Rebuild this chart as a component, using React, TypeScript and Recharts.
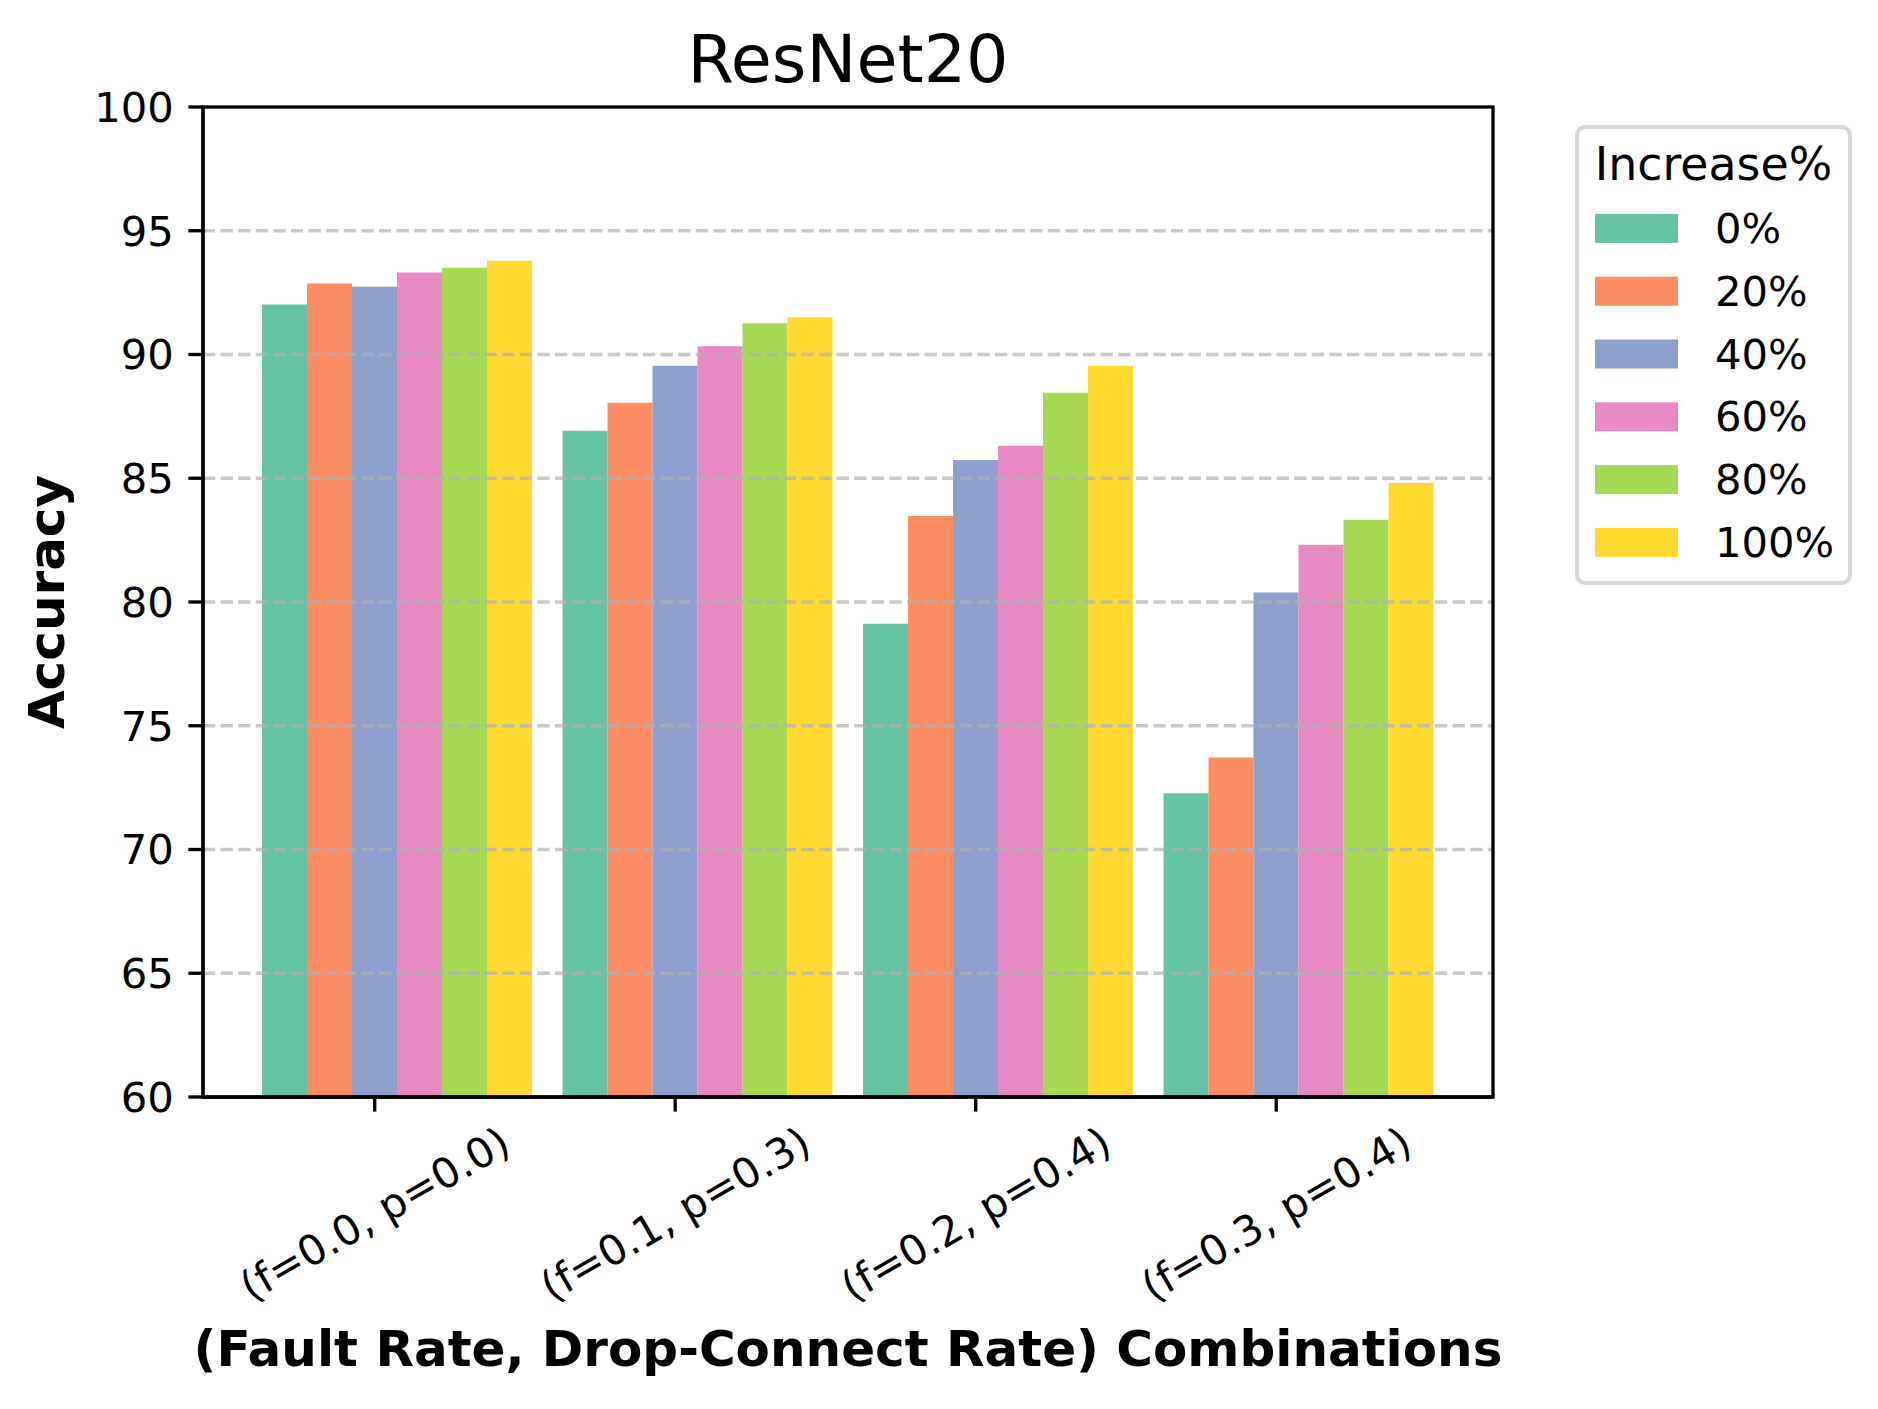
import React from 'react';
import { BarChart, Bar, XAxis, YAxis, ReferenceLine } from 'recharts';

// ---- data ----
const categories = ['(f=0.0, p=0.0)', '(f=0.1, p=0.3)', '(f=0.2, p=0.4)', '(f=0.3, p=0.4)'];
const seriesNames = ['0%', '20%', '40%', '60%', '80%', '100%'];
const inc0 = [92.02, 86.92, 79.12, 72.27];
const inc20 = [92.87, 88.05, 83.47, 73.72];
const inc40 = [92.74, 89.55, 85.74, 80.38];
const inc60 = [93.31, 90.33, 86.31, 82.31];
const inc80 = [93.51, 91.26, 88.45, 83.32];
const inc100 = [93.79, 91.51, 89.55, 84.81];
const yTicks = [60, 65, 70, 75, 80, 85, 90, 95, 100];
const gridTicks = [65, 70, 75, 80, 85, 90, 95];
const title = 'ResNet20';
const xLabel = '(Fault Rate, Drop-Connect Rate) Combinations';
const yLabel = 'Accuracy';
const legendTitle = 'Increase%';

// ---- style ----
const colors = ['#66c2a5', '#fc8d62', '#8da0cb', '#e78ac3', '#a6d854', '#ffd92f'];
const seriesValues = [inc0, inc20, inc40, inc60, inc80, inc100];
const keys = ['s0', 's20', 's40', 's60', 's80', 's100'];
const data = categories.map((c, i) => {
  const row: any = { name: c };
  keys.forEach((k, j) => { row[k] = seriesValues[j][i]; });
  return row;
});

const W = 1878;
const H = 1409;
const PLOT = { left: 203, right: 1493, top: 107, bottom: 1097 };
const Y_AXIS_W = 120;
const X_AXIS_H = 250;
const PAD = 44;
const BAND = (PLOT.right - PLOT.left - 2 * PAD) / categories.length;
const BAR_W = (BAND * 0.9) / keys.length;
const FONT = 'DejaVu Sans, Verdana, sans-serif';
const TICK_FS = 41.7;
const LABEL_FS = 50;
const TICK_LEN = 14.6;
const LW = 3.33;

const XTick = (props: any) => {
  const { x, payload } = props;
  const tx = x - BAR_W / 2;
  const cy = 1214;
  return (
    <g>
      <line x1={tx} x2={tx} y1={PLOT.bottom} y2={PLOT.bottom + TICK_LEN} stroke="#000" strokeWidth={LW} />
      <text
        x={tx}
        y={cy}
        transform={`rotate(-30 ${tx} ${cy})`}
        textAnchor="middle"
        dominantBaseline="central"
        fontSize={TICK_FS}
        fontFamily={FONT}
        fill="#000"
      >
        {payload.value}
      </text>
    </g>
  );
};

export default function App() {
  const legendLeft = 1577;
  const legendTop = 127;
  const legendW = 273;
  const legendH = 456;
  const rowC0 = 228.4;
  const rowStep = 62.8;
  const midY = (PLOT.top + PLOT.bottom) / 2;
  const midX = (PLOT.left + PLOT.right) / 2;
  return (
    <div style={{ position: 'absolute', left: 0, top: 0, width: W, height: H, background: '#fff', fontFamily: FONT }}>
      <BarChart
        width={W}
        height={H}
        data={data}
        margin={{ top: PLOT.top, left: PLOT.left - Y_AXIS_W, right: W - PLOT.right, bottom: H - PLOT.bottom - X_AXIS_H }}
        barCategoryGap="5%"
        barGap={0}
      >
        <XAxis
          dataKey="name"
          height={X_AXIS_H}
          padding={{ left: PAD, right: PAD }}
          axisLine={{ stroke: '#000', strokeWidth: LW }}
          tickLine={false}
          tick={<XTick />}
          interval={0}
        />
        <YAxis
          type="number"
          domain={[60, 100]}
          ticks={yTicks}
          allowDataOverflow
          width={Y_AXIS_W}
          axisLine={{ stroke: '#000', strokeWidth: LW }}
          tickLine={{ stroke: '#000', strokeWidth: LW }}
          tickSize={TICK_LEN}
          tickMargin={TICK_LEN}
          tick={{ fontSize: TICK_FS, fill: '#000', fontFamily: FONT }}
          interval={0}
        />
        {keys.map((k, j) => (
          <Bar key={k} dataKey={k} name={seriesNames[j]} fill={colors[j]} isAnimationActive={false} />
        ))}
        {gridTicks.map((v) => (
          <ReferenceLine
            key={v}
            y={v}
            stroke="#b0b0b0"
            strokeOpacity={0.7}
            strokeWidth={LW}
            strokeDasharray="12.3 5.3"
          />
        ))}
      </BarChart>
      <svg
        width={W}
        height={H}
        style={{ position: 'absolute', left: 0, top: 0, pointerEvents: 'none' }}
      >
        <rect
          x={PLOT.left}
          y={PLOT.top}
          width={PLOT.right - PLOT.left}
          height={PLOT.bottom - PLOT.top}
          fill="none"
          stroke="#000"
          strokeWidth={LW}
        />
        <text x={midX} y={82} textAnchor="middle" fontSize={66.7} fontFamily={FONT} fill="#000">
          {title}
        </text>
        <text x={midX} y={1366} textAnchor="middle" fontSize={LABEL_FS} fontWeight="bold" fontFamily={FONT} fill="#000">
          {xLabel}
        </text>
        <text
          x={64}
          y={midY}
          transform={`rotate(-90 64 ${midY})`}
          textAnchor="middle"
          fontSize={LABEL_FS}
          fontWeight="bold"
          fontFamily={FONT}
          fill="#000"
        >
          {yLabel}
        </text>
        <rect
          x={legendLeft}
          y={legendTop}
          width={legendW}
          height={legendH}
          rx={8}
          ry={8}
          fill="#fff"
          fillOpacity={0.8}
          stroke="#d6d6d6"
          strokeWidth={4}
        />
        <text x={legendLeft + legendW / 2} y={180} textAnchor="middle" fontSize={45.8} fontFamily={FONT} fill="#000">
          {legendTitle}
        </text>
        {seriesNames.map((n, j) => {
          const cy = rowC0 + rowStep * j;
          return (
            <g key={n}>
              <rect x={1595} y={cy - 14.5} width={83} height={29} fill={colors[j]} />
              <text x={1715} y={cy} dominantBaseline="central" fontSize={TICK_FS} fontFamily={FONT} fill="#000">
                {n}
              </text>
            </g>
          );
        })}
      </svg>
    </div>
  );
}
